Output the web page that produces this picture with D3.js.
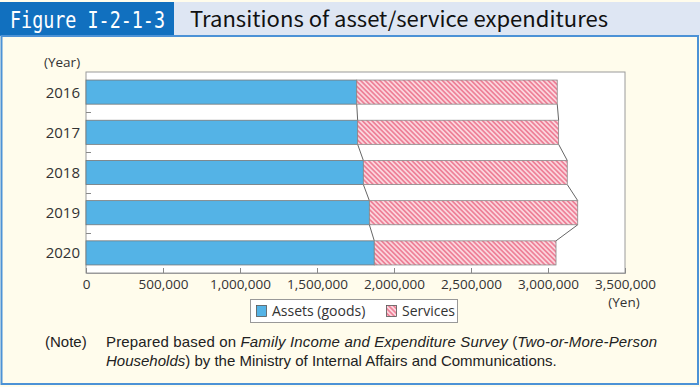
<!DOCTYPE html>
<html><head><meta charset="utf-8">
<script src="https://cdn.jsdelivr.net/npm/d3@7"></script>
<style>body{margin:0;background:#FFFCEC;}svg{display:block;}</style>
</head><body>
<svg id="c" width="700" height="387"></svg>
<script>
const years = ["2016","2017","2018","2019","2020"];
const assets = [1758000, 1764000, 1801000, 1840000, 1872000];
const services = [1302000, 1305000, 1324000, 1353000, 1180000];
const xTicks = [0,500000,1000000,1500000,2000000,2500000,3000000,3500000];
const seriesNames = ["Assets (goods)","Services"];

const svg = d3.select("#c");
const defs = svg.append("defs");
const pat = defs.append("pattern").attr("id","hatch").attr("patternUnits","userSpaceOnUse")
  .attr("width",3.4).attr("height",3.4).attr("patternTransform","rotate(-45)");
pat.append("rect").attr("width",3.4).attr("height",3.4).attr("fill","#FBD5DD");
pat.append("rect").attr("x",0).attr("y",0).attr("width",1.7).attr("height",3.4).attr("fill","#EE8198");

// background + frame
svg.append("rect").attr("width",700).attr("height",387).attr("fill","#FFFCEC");
svg.append("rect").attr("x",0).attr("y",2).attr("width",700).attr("height",34).attr("fill","#DEE6F3");
svg.append("rect").attr("x",0).attr("y",2).attr("width",174).attr("height",34).attr("fill","#1170BF");
svg.append("rect").attr("x",1.5).attr("y",36).attr("width",696.5).attr("height",348).attr("fill","none")
  .attr("stroke","#4C92D6").attr("stroke-width",2);
svg.append("text").attr("x",10).attr("y",28).attr("fill","#fff")
  .attr("font-family","DejaVu Sans Mono").attr("font-size",23)
  .attr("textLength",155).attr("lengthAdjust","spacingAndGlyphs").text("Figure I-2-1-3");
svg.append("text").attr("x",190).attr("y",27).attr("fill","#111")
  .attr("font-family","Noto Sans CJK JP").attr("font-size",21)
  .attr("textLength",418).attr("lengthAdjust","spacingAndGlyphs").text("Transitions of asset/service expenditures");

const x = d3.scaleLinear().domain([0,3500000]).range([86,625]);
const y = d3.scaleBand().domain(years).range([72,273]).paddingInner(0.4).paddingOuter(0.2);
const bw = y.bandwidth();

// plot area
svg.append("rect").attr("x",86).attr("y",72).attr("width",539).attr("height",201)
  .attr("fill","#fff").attr("stroke","#9a9a9a").attr("stroke-width",1);

const g = svg.append("g");
const data = years.map((yr,i)=>({yr, a:assets[i], s:services[i], t:assets[i]+services[i]}));

// connector lines
for (let i=0;i<data.length-1;i++){
  ["a","t"].forEach(k=>{
    g.append("line").attr("x1",x(data[i][k])).attr("y1",y(data[i].yr)+bw)
      .attr("x2",x(data[i+1][k])).attr("y2",y(data[i+1].yr))
      .attr("stroke","#666").attr("stroke-width",1);
  });
}
g.selectAll(".ba").data(data).join("rect").attr("class","ba")
  .attr("x",x(0)).attr("y",d=>y(d.yr)).attr("width",d=>x(d.a)-x(0)).attr("height",bw)
  .attr("fill","#54B3E6").attr("stroke","#777").attr("stroke-width",0.8);
g.selectAll(".bs").data(data).join("rect").attr("class","bs")
  .attr("x",d=>x(d.a)).attr("y",d=>y(d.yr)).attr("width",d=>x(d.t)-x(d.a)).attr("height",bw)
  .attr("fill","url(#hatch)").attr("stroke","#888").attr("stroke-width",0.8);

// x axis ticks (inside)
const xa = svg.append("g").attr("transform","translate(0,273)")
  .call(d3.axisBottom(x).tickValues(xTicks).tickSize(-5).tickPadding(6).tickFormat(d3.format(",")));
xa.select(".domain").attr("stroke","#9a9a9a");
xa.selectAll(".tick line").attr("stroke","#888");
xa.selectAll("text").attr("font-family","Open Sans").attr("font-size",13.5).attr("fill","#333");

// y axis labels and inner ticks at band boundaries
years.forEach((yr,i)=>{
  svg.append("text").attr("x",80).attr("y",y(yr)+bw/2).attr("dy","0.36em").attr("text-anchor","end")
    .attr("font-family","Open Sans").attr("font-size",15).attr("fill","#333").text(yr);
  if (i>0){
    const yy = Math.round((y(years[i-1])+bw + y(yr))/2)+0.5;
    svg.append("line").attr("x1",86).attr("x2",91).attr("y1",yy).attr("y2",yy).attr("stroke","#888");
  }
});
svg.append("text").attr("x",44).attr("y",67).attr("font-family","Open Sans").attr("font-size",13.5)
  .attr("fill","#333").text("(Year)");
svg.append("text").attr("x",624).attr("y",307).attr("text-anchor","middle").attr("font-family","Open Sans")
  .attr("font-size",13.5).attr("fill","#333").text("(Yen)");

// legend
svg.append("rect").attr("x",250.5).attr("y",299.5).attr("width",207).attr("height",23)
  .attr("fill","#fff").attr("stroke","#999");
svg.append("rect").attr("x",256.5).attr("y",305.5).attr("width",10).attr("height",11)
  .attr("fill","#54B3E6").attr("stroke","#555").attr("stroke-width",0.8);
svg.append("text").attr("x",272).attr("y",316).attr("font-family","Open Sans").attr("font-size",14)
  .attr("fill","#333").text(seriesNames[0]);
svg.append("rect").attr("x",386.5).attr("y",305.5).attr("width",10).attr("height",11)
  .attr("fill","url(#hatch)").attr("stroke","#555").attr("stroke-width",0.8);
svg.append("text").attr("x",402).attr("y",316).attr("font-family","Open Sans").attr("font-size",14)
  .attr("fill","#333").text(seriesNames[1]);

// note
const nf = "Liberation Sans";
svg.append("text").attr("x",45).attr("y",347).attr("font-family",nf).attr("font-size",15).attr("fill","#222").text("(Note)");
const l1 = svg.append("text").attr("x",106).attr("y",347).attr("font-family",nf).attr("font-size",15).attr("fill","#222")
  .attr("textLength",551).attr("lengthAdjust","spacing");
l1.append("tspan").text("Prepared based on ");
l1.append("tspan").attr("font-style","italic").text("Family Income and Expenditure Survey");
l1.append("tspan").text(" (");
l1.append("tspan").attr("font-style","italic").text("Two-or-More-Person");
const l2 = svg.append("text").attr("x",106).attr("y",366).attr("font-family",nf).attr("font-size",15).attr("fill","#222");
l2.append("tspan").attr("font-style","italic").text("Households");
l2.append("tspan").text(") by the Ministry of Internal Affairs and Communications.");
</script>
</body></html>
